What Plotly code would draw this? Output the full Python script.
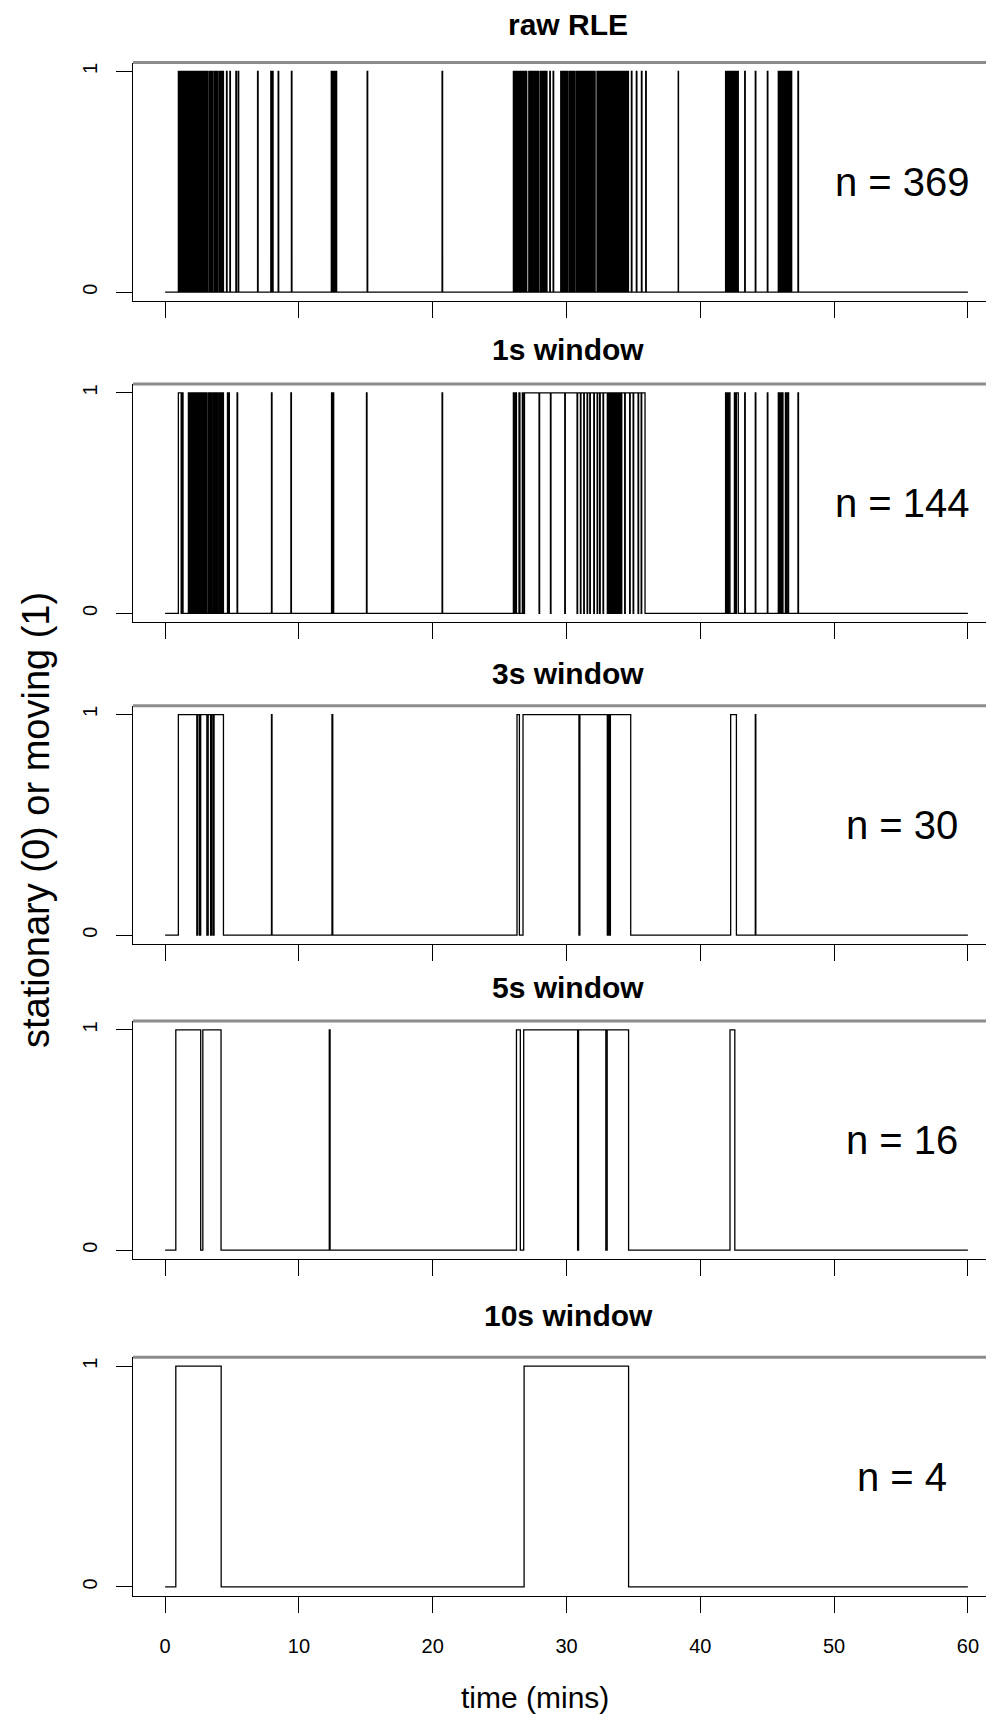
import plotly.graph_objects as go

W, H = 994, 1723

titles = ["raw RLE", "1s window", "3s window", "5s window", "10s window"]
n_labels = ["n = 369", "n = 144", "n = 30", "n = 16", "n = 4"]
x_ticks = [0, 10, 20, 30, 40, 50, 60]
y_ticks = [0, 1]
t_start, t_end = 0, 60

# switch times (mins) between stationary (0) and moving (1), starting stationary
raw_switch = [
    0.99, 1.05, 1.11, 1.16, 1.22, 1.28, 1.33, 1.39, 1.45, 1.50, 1.56, 1.62, 1.68, 1.72,
    1.80, 1.86, 1.91, 1.97, 2.03, 2.08, 2.14, 2.20, 2.25, 2.31, 2.37, 2.42, 2.48, 2.54,
    2.59, 2.65, 2.71, 2.76, 2.82, 2.88, 2.93, 2.99, 3.05, 3.10, 3.15, 3.19,
    3.30, 3.36, 3.42, 3.48, 3.54, 3.57, 3.68, 3.74, 3.80, 3.86, 3.92, 3.95,
    4.06, 4.12, 4.18, 4.24, 4.30, 4.36, 4.59, 4.63, 4.84, 4.88, 5.29, 5.33, 5.46, 5.50,
    6.91, 6.95, 7.90, 7.94, 8.03, 8.07, 8.45, 8.49, 9.44, 9.48,
    12.42, 12.50, 12.58, 12.66, 12.74, 12.82, 15.10, 15.14, 20.70, 20.74,
    26.03, 26.09, 26.15, 26.21, 26.27, 26.33, 26.39, 26.45, 26.51, 26.57, 26.63, 26.69,
    26.75, 26.81, 26.87, 26.93, 26.98, 27.03,
    27.18, 27.24, 27.30, 27.36, 27.42, 27.48, 27.54, 27.60, 27.66, 27.72, 27.78, 27.84,
    27.88, 27.92, 28.04, 28.10, 28.16, 28.22, 28.28, 28.34, 28.38, 28.41,
    28.50, 28.54, 28.75, 28.79, 29.00, 29.04,
    29.57, 29.63, 29.69, 29.75, 29.81, 29.87, 29.93, 29.99, 30.05, 30.09, 30.20, 30.26,
    30.32, 30.38, 30.44, 30.50, 30.56, 30.59, 30.70, 30.76, 30.82, 30.88, 30.94, 31.00,
    31.06, 31.12, 31.18, 31.24, 31.30, 31.36, 31.42, 31.48, 31.54, 31.60, 31.66, 31.72,
    31.78, 31.84, 31.90, 31.96, 32.02, 32.08, 32.11, 32.14,
    32.28, 32.34, 32.40, 32.46, 32.52, 32.58, 32.64, 32.70, 32.76, 32.82, 32.88, 32.94,
    32.97, 33.00,
    33.06, 33.12, 33.18, 33.24, 33.30, 33.36, 33.42, 33.48, 33.54, 33.60, 33.66, 33.72,
    33.78, 33.84, 33.90, 33.96, 34.02, 34.08, 34.14, 34.20, 34.26, 34.32, 34.38, 34.44,
    34.50, 34.56, 34.59, 34.63,
    34.85, 34.89, 35.22, 35.26, 35.60, 35.64, 35.92, 35.96, 38.35, 38.37,
    41.89, 41.95, 42.01, 42.07, 42.13, 42.19, 42.25, 42.31, 42.37, 42.43, 42.49, 42.55,
    42.61, 42.67, 42.73, 42.79, 42.81, 42.84,
    43.32, 43.36, 44.11, 44.15, 45.01, 45.05,
    45.83, 45.89, 45.95, 46.01, 46.07, 46.13, 46.19, 46.25, 46.31, 46.37, 46.43, 46.49,
    46.55, 46.61, 46.67, 46.73, 46.79, 46.83, 47.30, 47.34,
]

w1_switch = [
    0.99, 1.20, 1.28, 1.34,
    1.74, 1.80, 1.86, 1.93, 2.00, 2.06, 2.12, 2.19, 2.26, 2.32, 2.40, 2.46, 2.52, 2.58,
    2.64, 2.71, 2.78, 2.84, 2.92, 2.98, 3.05, 3.11, 3.22, 3.28, 3.34, 3.40, 3.46, 3.52,
    3.62, 3.68, 3.74, 3.80, 3.86, 3.92, 4.02, 4.08, 4.14, 4.20, 4.28, 4.36,
    4.66, 4.70, 4.76, 4.80, 5.38, 5.42,
    7.95, 7.99, 9.40, 9.44, 12.44, 12.50, 12.56, 12.60, 15.05, 15.09, 20.70, 20.74,
    26.03, 26.10, 26.20, 26.26, 26.45, 26.52, 26.70, 26.76, 26.86,
    27.95, 27.99, 28.80, 28.84, 29.87, 29.91,
    30.79, 30.83, 31.04, 31.08, 31.29, 31.33, 31.54, 31.58, 31.74, 31.78, 32.04, 32.08,
    32.29, 32.33, 32.48, 32.52, 32.73, 32.77,
    33.05, 33.08, 33.12, 33.15, 33.19, 33.22, 33.26, 33.29, 33.33, 33.36, 33.40, 33.43,
    33.47, 33.50, 33.54, 33.57, 33.61, 33.64, 33.68, 33.71, 33.75, 33.78, 33.82, 33.85,
    33.89, 33.92, 33.96, 33.99, 34.03, 34.06, 34.10, 34.13,
    34.35, 34.39, 34.72, 34.76, 34.98, 35.02, 35.35, 35.39, 35.58, 35.62,
    35.87,
    41.89, 41.95, 42.00, 42.06, 42.12, 42.22, 42.55, 42.62, 42.70, 42.84,
    43.32, 43.36, 44.11, 44.15, 45.01, 45.05,
    45.83, 45.90, 45.96, 46.04, 46.10, 46.18, 46.36, 46.44, 46.50, 46.60,
    47.30, 47.34,
]

w3_switch = [
    0.99, 2.37, 2.45, 2.58, 2.66, 3.12, 3.22, 3.40, 3.47, 3.58, 3.66, 4.36,
    7.95, 7.99, 12.47, 12.53,
    26.30, 26.48, 26.75, 30.93, 31.00, 33.05, 33.12, 33.20, 33.28, 34.80,
    42.27, 42.70, 44.11, 44.15,
]

w5_switch = [
    0.80, 2.66, 2.82, 4.18,
    12.27, 12.33,
    26.26, 26.55, 26.80, 30.83, 30.90, 32.94, 33.04, 34.64,
    42.22, 42.58,
]

w10_switch = [0.80, 4.19, 26.83, 34.64]

series = [raw_switch, w1_switch, w3_switch, w5_switch, w10_switch]

# ---- layout geometry (pixels inside the figure) ----
frames = [(54.6, 293.0), (376.0, 614.3), (697.7, 936.0), (1013.0, 1251.0), (1349.3, 1587.7)]
title_y = [16.5, 341.3, 665.3, 979.0, 1307.0]
x_dom_px = [125.0, 992.0]
x_range = [-2.4, 62.4]
y_range = [-0.04, 1.04]

FONT = "Liberation Sans, Arial, Helvetica, sans-serif"


def step_xy(sw):
    xs = [t_start] + list(sw) + [t_end]
    ys = [0]
    state = 0
    for _ in sw:
        state = 1 - state
        ys.append(state)
    ys.append(state)
    return xs, ys


def ax_id(k):
    return "" if k == 1 else str(k)


fig = go.Figure()
layout = dict(
    width=W, height=H,
    margin=dict(l=0, r=0, t=0, b=0),
    paper_bgcolor="white", plot_bgcolor="white",
    showlegend=False,
    font=dict(family=FONT, color="black"),
)
annotations = []
shapes = []

for i, sw in enumerate(series):
    k = i + 1
    a = ax_id(k)
    xs, ys = step_xy(sw)
    fig.add_trace(go.Scatter(
        x=xs, y=ys, mode="lines", line=dict(color="black", width=1.3, shape="hv"),
        xaxis=f"x{a}", yaxis=f"y{a}", hoverinfo="skip",
    ))
    top, bot = frames[i]
    layout[f"xaxis{a}"] = dict(
        domain=[x_dom_px[0] / W, x_dom_px[1] / W], range=x_range, anchor=f"y{a}",
        tickmode="array", tickvals=x_ticks, ticktext=[str(v) for v in x_ticks],
        ticks="outside", ticklen=16, tickwidth=1, tickcolor="black",
        showticklabels=(k == 5), tickfont=dict(size=20, family=FONT),
        ticklabelstandoff=16,
        showline=True, linecolor="black", linewidth=1.3, mirror=False,
        showgrid=False, zeroline=False, fixedrange=True,
    )
    layout[f"yaxis{a}"] = dict(
        domain=[1 - bot / H, 1 - top / H], range=y_range, anchor=f"x{a}",
        tickmode="array", tickvals=y_ticks, ticktext=[str(v) for v in y_ticks],
        ticks="outside", ticklen=16, tickwidth=1, tickcolor="black",
        tickangle=-90, tickfont=dict(size=20, family=FONT), ticklabelstandoff=11,
        showline=True, linecolor="black", linewidth=1.3, mirror=False,
        showgrid=False, zeroline=False, fixedrange=True,
    )
    # top edge of the box
    shapes.append(dict(
        type="line", xref=f"x{a} domain", yref=f"y{a} domain",
        x0=0, x1=1, y0=1, y1=1, line=dict(color="#8c8c8c", width=3),
    ))
    annotations.append(dict(
        text=f"<b>{titles[i]}</b>", xref="paper", yref="paper",
        x=560 / W, y=1 - title_y[i] / H, xanchor="center", yanchor="middle",
        showarrow=False, font=dict(size=30, family=FONT, color="black"),
    ))
    annotations.append(dict(
        text=n_labels[i], xref=f"x{a}", yref=f"y{a}", x=55.1, y=0.5,
        xanchor="center", yanchor="middle", showarrow=False,
        font=dict(size=40, family=FONT, color="black"),
    ))

annotations.append(dict(
    text="time (mins)", xref="paper", yref="paper", x=527 / W, y=1 - 1689 / H,
    xanchor="center", yanchor="middle", showarrow=False,
    font=dict(size=30, family=FONT, color="black"),
))
annotations.append(dict(
    text="stationary (0) or moving (1)", xref="paper", yref="paper",
    x=28 / W, y=1 - 812 / H, xanchor="center", yanchor="middle", textangle=-90,
    showarrow=False, font=dict(size=38, family=FONT, color="black"),
))

layout["annotations"] = annotations
layout["shapes"] = shapes
fig.update_layout(**layout)
fig.write_html("out.html")
